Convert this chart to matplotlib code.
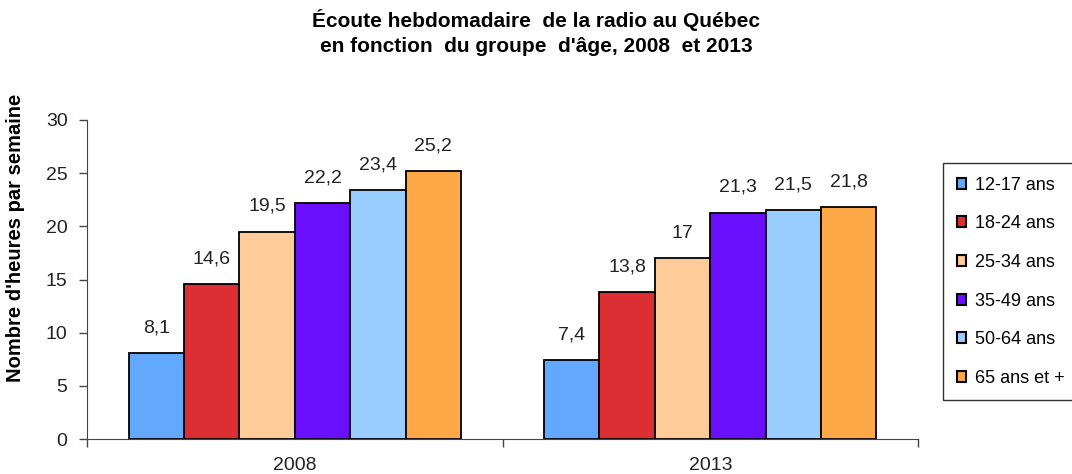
import matplotlib
matplotlib.use("Agg")
import matplotlib.pyplot as plt
import numpy as np

years = ["2008", "2013"]
groups = ["12-17 ans", "18-24 ans", "25-34 ans", "35-49 ans", "50-64 ans", "65 ans et +"]
v2008 = [8.1, 14.6, 19.5, 22.2, 23.4, 25.2]
v2013 = [7.4, 13.8, 17.0, 21.3, 21.5, 21.8]
labels2008 = ["8,1", "14,6", "19,5", "22,2", "23,4", "25,2"]
labels2013 = ["7,4", "13,8", "17", "21,3", "21,5", "21,8"]
colors = ["#62A8FF", "#DD2E34", "#FFCC99", "#6A10FF", "#99CCFF", "#FFA848"]
yticks = [0, 5, 10, 15, 20, 25, 30]

plt.rcParams['font.family'] = ['Liberation Sans', 'DejaVu Sans']

fig = plt.figure(figsize=(10.72, 4.74), dpi=100)
ax = fig.add_axes([87/1072, 1-439/474, (918-87)/1072, (439-120)/474])

x = np.arange(len(years))
n = len(groups)
w = 0.8 / n
vals = [v2008, v2013]
labs = [labels2008, labels2013]
for i in range(n):
    pos = x - 0.4 + w*(i+0.5)
    heights = [vals[j][i] for j in range(len(years))]
    bars = ax.bar(pos, heights, width=w, color=colors[i], edgecolor='black',
                  linewidth=1.3, label=groups[i], zorder=3)
    for j, b in enumerate(bars):
        ax.annotate(labs[j][i], (b.get_x()+b.get_width()/2, b.get_height()),
                    xytext=(0, 12), textcoords='offset points', ha='center', va='bottom',
                    fontsize=14, color='#222222')

ax.set_xlim(-0.5, 1.5)
ax.set_ylim(0, 30)
ax.set_yticks(yticks)
ax.set_yticklabels([str(t) for t in yticks], fontsize=14, color='#222222')
ax.tick_params(axis='y', length=6, width=1, pad=8, color='#444444')
ax.set_xticks([-0.5, 0.5, 1.5])
ax.set_xticklabels([])
ax.set_xticks([0, 1], minor=True)
ax.set_xticklabels(years, minor=True, fontsize=14, color='#222222')
ax.tick_params(axis='x', which='major', length=6, width=1, direction='out', color='#444444')
ax.tick_params(axis='x', which='minor', length=0, pad=13)
for s in ['top', 'right']:
    ax.spines[s].set_visible(False)
ax.spines['left'].set_color('#444444')
ax.spines['bottom'].set_color('#444444')

ax.set_ylabel("Nombre d'heures par semaine", fontsize=14.5, fontweight='bold')
ax.yaxis.set_label_coords(-62/831, (439-238)/319)

fig.text(0.5, 1-20/474, "Écoute hebdomadaire  de la radio au Québec", ha='center', va='center',
         fontsize=15, fontweight='bold')
fig.text(0.5, 1-46/474, "en fonction  du groupe  d'âge, 2008  et 2013", ha='center', va='center',
         fontsize=15, fontweight='bold')

leg = fig.legend(loc='upper left', bbox_to_anchor=(943/1072, 1-163/474), frameon=True,
                 fancybox=False, edgecolor='black', fontsize=13, handlelength=0.55,
                 handleheight=0.55, handletextpad=0.45, labelspacing=1.2, borderpad=0.75,
                 borderaxespad=0)
leg.get_frame().set_linewidth(1)
for h in leg.legend_handles:
    h.set_linewidth(1.5)

fig.savefig("out.png", dpi=100)
